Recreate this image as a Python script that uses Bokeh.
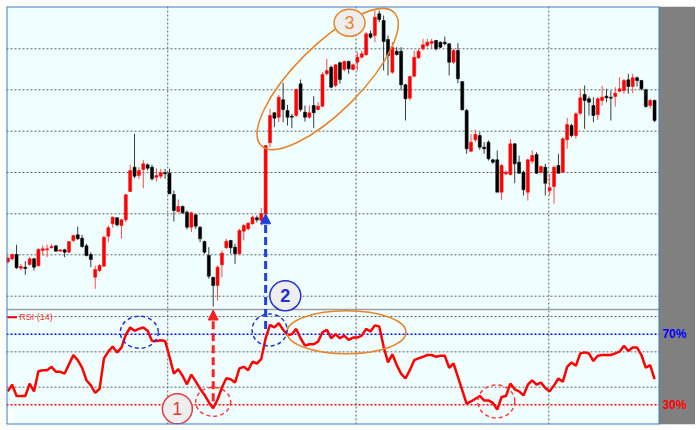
from bokeh.plotting import figure
from bokeh.models import Range1d, Span, Label, Arrow, NormalHead, BoxAnnotation
from bokeh.embed import file_html
from bokeh.resources import INLINE
from bokeh.core.properties import value

# ---------------- data ----------------
opens = [117.385, 117.417, 117.460, 117.323, 117.333, 117.360, 117.417, 117.347, 117.500, 117.507,
         117.527, 117.547, 117.493, 117.507, 117.483, 117.600, 117.657, 117.623, 117.547, 117.460,
         117.233, 117.300, 117.343, 117.643, 117.767, 117.827, 117.750, 117.807, 118.090, 118.333,
         118.250, 118.310, 118.357, 118.333, 118.233, 118.243, 118.277, 118.273, 118.060, 117.890,
         117.940, 117.883, 117.733, 117.857, 117.733, 117.590, 117.450, 117.233, 117.150, 117.357,
         117.527, 117.600, 117.533, 117.467, 117.693, 117.717, 117.767, 117.827, 117.800, 117.867,
         118.577, 118.877, 118.833, 119.007, 118.900, 118.843, 118.850, 119.167, 118.883, 118.833,
         118.950, 118.910, 118.943, 119.267, 119.333, 119.150, 119.377, 119.310, 119.390, 119.310,
         119.383, 119.433, 119.457, 119.667, 119.650, 119.867, 119.800, 119.610, 119.283, 119.493,
         119.493, 119.157, 119.023, 119.243, 119.427, 119.517, 119.550, 119.573, 119.600, 119.583,
         119.583, 119.567, 119.383, 119.500, 119.190, 118.900, 118.493, 118.607, 118.650, 118.533,
         118.583, 118.407, 118.407, 118.083, 118.267, 118.260, 118.567, 118.383, 118.283, 118.083,
         118.393, 118.460, 118.283, 118.333, 118.100, 118.140, 118.350, 118.283, 118.607, 118.750,
         118.650, 118.873, 119.060, 119.017, 118.950, 118.860, 119.000, 119.043, 119.033, 119.040,
         119.093, 119.100, 119.207, 119.140, 119.227, 119.200, 119.107, 118.950, 119.000]
closes = [117.425, 117.460, 117.327, 117.340, 117.320, 117.417, 117.333, 117.510, 117.517, 117.517,
          117.540, 117.493, 117.507, 117.483, 117.590, 117.650, 117.617, 117.540, 117.450, 117.410,
          117.310, 117.350, 117.633, 117.727, 117.833, 117.757, 117.807, 118.057, 118.300, 118.243,
          118.300, 118.367, 118.323, 118.217, 118.250, 118.277, 118.267, 118.067, 117.900, 117.940,
          117.877, 117.733, 117.877, 117.743, 117.617, 117.483, 117.243, 117.150, 117.333, 117.473,
          117.593, 117.527, 117.467, 117.700, 117.750, 117.773, 117.833, 117.807, 117.867, 118.550,
          118.850, 118.823, 119.033, 118.910, 118.833, 118.833, 119.110, 118.910, 118.833, 118.877,
          118.877, 118.943, 119.260, 119.300, 119.133, 119.357, 119.210, 119.390, 119.317, 119.357,
          119.433, 119.467, 119.667, 119.633, 119.833, 119.810, 119.590, 119.450, 119.533, 119.460,
          119.157, 119.017, 119.240, 119.433, 119.493, 119.557, 119.583, 119.590, 119.517, 119.533,
          119.567, 119.383, 119.500, 119.217, 118.907, 118.517, 118.583, 118.660, 118.533, 118.517,
          118.417, 118.383, 118.083, 118.350, 118.283, 118.567, 118.367, 118.273, 118.107, 118.407,
          118.450, 118.273, 118.340, 118.173, 118.127, 118.333, 118.273, 118.617, 118.760, 118.650,
          118.867, 119.027, 119.000, 118.983, 118.850, 119.017, 119.033, 119.027, 119.023, 119.073,
          119.117, 119.200, 119.140, 119.227, 119.200, 119.117, 118.940, 119.000, 118.800]
highs = [117.440, 117.470, 117.557, 117.367, 117.393, 117.433, 117.427, 117.523, 117.550, 117.560,
         117.567, 117.550, 117.510, 117.517, 117.590, 117.657, 117.740, 117.657, 117.567, 117.483,
         117.350, 117.367, 117.650, 117.750, 117.840, 117.833, 117.817, 118.067, 118.357, 118.667,
         118.333, 118.407, 118.370, 118.357, 118.323, 118.317, 118.317, 118.317, 118.100, 118.010,
         117.950, 117.900, 117.890, 117.867, 117.743, 117.600, 117.533, 117.233, 117.350, 117.500,
         117.617, 117.607, 117.567, 117.717, 117.767, 117.783, 117.850, 117.850, 117.927, 118.550,
         118.917, 118.883, 119.057, 119.177, 118.957, 118.867, 119.123, 119.210, 118.950, 118.950,
         119.043, 118.983, 119.283, 119.417, 119.350, 119.367, 119.390, 119.400, 119.400, 119.370,
         119.483, 119.500, 119.683, 119.700, 119.900, 119.900, 119.850, 119.650, 119.583, 119.533,
         119.533, 119.167, 119.250, 119.500, 119.517, 119.617, 119.617, 119.617, 119.607, 119.590,
         119.640, 119.573, 119.517, 119.573, 119.190, 118.917, 118.667, 118.707, 118.683, 118.583,
         118.600, 118.417, 118.500, 118.367, 118.300, 118.617, 118.573, 118.450, 118.300, 118.417,
         118.500, 118.483, 118.350, 118.367, 118.267, 118.350, 118.467, 118.633, 118.827, 118.767,
         118.883, 119.117, 119.150, 119.040, 119.033, 119.033, 119.150, 119.117, 119.100, 119.133,
         119.233, 119.217, 119.267, 119.267, 119.240, 119.207, 119.117, 119.017, 119.010]
lows = [117.370, 117.400, 117.317, 117.300, 117.257, 117.350, 117.300, 117.340, 117.450, 117.433,
        117.523, 117.490, 117.490, 117.433, 117.473, 117.583, 117.607, 117.527, 117.440, 117.333,
        117.117, 117.283, 117.340, 117.583, 117.727, 117.740, 117.617, 117.783, 118.083, 118.223,
        118.217, 118.123, 118.300, 118.200, 118.190, 118.217, 118.217, 118.067, 117.790, 117.877,
        117.867, 117.710, 117.683, 117.717, 117.583, 117.467, 117.217, 116.940, 117.000, 117.233,
        117.517, 117.467, 117.367, 117.460, 117.600, 117.700, 117.760, 117.780, 117.750, 117.860,
        118.533, 118.733, 118.783, 118.783, 118.750, 118.723, 118.833, 118.890, 118.790, 118.817,
        118.723, 118.900, 118.933, 119.250, 119.123, 119.133, 119.167, 119.290, 119.267, 119.300,
        119.300, 119.417, 119.450, 119.617, 119.583, 119.783, 119.300, 119.250, 119.267, 119.450,
        119.100, 118.800, 119.000, 119.233, 119.417, 119.500, 119.533, 119.520, 119.500, 119.525,
        119.550, 119.250, 119.367, 119.173, 118.900, 118.467, 118.483, 118.583, 118.507, 118.467,
        118.400, 118.367, 118.083, 118.007, 118.250, 118.250, 118.173, 118.267, 118.050, 118.000,
        118.367, 118.267, 118.267, 118.050, 118.050, 117.967, 118.267, 118.273, 118.517, 118.633,
        118.617, 118.850, 118.717, 118.850, 118.783, 118.807, 118.950, 118.983, 118.800, 118.940,
        119.083, 119.067, 119.067, 119.073, 119.140, 119.100, 118.927, 118.917, 118.783]
rsi = [37.6, 41.4, 35.0, 35.0, 35.0, 42.0, 37.6, 49.0, 49.6, 49.6,
       51.5, 48.7, 48.7, 47.7, 52.9, 58.2, 55.3, 51.0, 43.9, 41.0,
       36.7, 39.1, 56.3, 60.1, 63.0, 59.7, 62.4, 69.6, 73.8, 71.9,
       73.0, 73.8, 71.9, 66.2, 66.2, 66.6, 66.2, 57.2, 47.7, 50.2,
       46.4, 41.6, 47.1, 43.3, 39.1, 35.7, 31.5, 28.1, 33.0, 39.8,
       45.0, 44.5, 42.6, 50.6, 51.5, 49.6, 54.4, 53.4, 55.9, 67.7,
       75.3, 73.8, 76.3, 72.5, 69.6, 70.0, 73.0, 67.7, 63.5, 64.3,
       64.3, 65.8, 71.1, 72.5, 67.7, 70.0, 67.7, 69.2, 66.8, 68.1,
       68.1, 69.2, 73.0, 71.5, 75.0, 74.4, 63.0, 54.0, 58.6, 52.5,
       47.7, 44.9, 49.6, 55.3, 56.3, 57.2, 58.2, 58.2, 57.2, 57.8,
       57.8, 51.0, 53.4, 45.8, 38.2, 30.6, 31.9, 33.4, 35.0, 32.5,
       32.5, 31.1, 27.3, 34.4, 35.0, 42.0, 38.8, 37.6, 35.3, 41.4,
       43.9, 41.4, 42.6, 39.5, 37.6, 41.0, 44.9, 43.0, 51.5, 54.0,
       52.1, 59.1, 59.7, 59.1, 54.8, 57.8, 58.2, 58.2, 58.2, 59.1,
       60.1, 63.5, 60.5, 62.4, 62.4, 58.2, 51.0, 52.5, 44.5]

price_grid = [117.043, 117.457, 117.867, 118.280, 118.693, 119.107, 119.517]
time_grid = [36.6, 79.7, 123.8]
rsi_grid = [80, 60, 40]
rsi_levels = [70, 30]
rsi_level_labels = ["70%", "30%"]
rsi_title = "RSI (14)"
circle_labels = ["1", "2", "3"]

idx = list(range(len(opens)))

# ---------------- figure ----------------
x_first, chart_right = -0.3, 149.13
main_range = Range1d(115.76, 119.94)
rsi_range = Range1d(18.84, 255.66)
price_panel_bottom = 116.91

p = figure(width=695, height=426, x_range=Range1d(x_first, 157.37), y_range=main_range,
           x_axis_location=None, y_axis_location=None, title=None,
           toolbar_location=None, output_backend="svg",
           min_border_left=6, min_border_top=6, min_border_bottom=2, min_border_right=0,
           background_fill_color="#F0FFFF", border_fill_color="#FFFFFF",
           outline_line_color=None)
p.extra_y_ranges = {"rsi": rsi_range}
p.grid.visible = False


def rsi_to_main(r):
    f = (r - rsi_range.start) / (rsi_range.end - rsi_range.start)
    return main_range.start + f * (main_range.end - main_range.start)


grid_style = dict(line_color="#5E5E5E", line_dash="2 2", line_width=1, level="underlay")
for g in price_grid:
    p.add_layout(Span(location=g, dimension="width", **grid_style))
for t in time_grid:
    p.add_layout(Span(location=t, dimension="height", **grid_style))
for g in rsi_grid:
    p.add_layout(Span(location=g, dimension="width", y_range_name="rsi", **grid_style))
for lv, col in zip(rsi_levels, ["#0000FF", "#FF0000"]):
    p.add_layout(Span(location=lv, dimension="width", y_range_name="rsi", line_color=col,
                      line_dash="2 2", line_width=1.5, level="underlay"))
p.add_layout(Span(location=price_panel_bottom, dimension="width", line_color="#9C9C9C",
                  line_width=1.5, level="underlay"))

# ---------------- candles ----------------
up = [i for i in idx if closes[i] >= opens[i]]
dn = [i for i in idx if closes[i] < opens[i]]
for sel, body, wick in [(up, "#FF0000", "#FF4848"), (dn, "#000000", "#3A3A3A")]:
    xs = [idx[i] for i in sel]
    p.segment(x0=xs, x1=xs, y0=[lows[i] for i in sel], y1=[highs[i] for i in sel],
              line_color=wick, line_width=1)
    p.vbar(x=xs, width=0.7, top=[max(opens[i], closes[i]) for i in sel],
           bottom=[min(opens[i], closes[i]) for i in sel],
           fill_color=body, line_color=body, line_width=0.5)

# ---------------- RSI ----------------
p.line(idx, rsi, y_range_name="rsi", line_color="#FF0000", line_width=2.5)
p.segment(x0=[-0.1], x1=[2.1], y0=[79.6], y1=[79.6], y_range_name="rsi",
          line_color="#FF0000", line_width=2)
p.add_layout(Label(x=2.6, y=79.6, y_range_name="rsi", text=rsi_title, text_baseline="middle",
                   text_font="Liberation Sans", text_font_size="9px", text_color="#FF3030"))

# ---------------- annotations ----------------
orange = "#E8842C"
p.ellipse(x=[73.2], y=[119.215], width=[188], height=[66], angle=[0.785],
          width_units="screen", height_units="screen",
          fill_color=None, line_color=orange, line_width=1.6)
p.ellipse(x=[77.5], y=[71.1], width=[119], height=[43], y_range_name="rsi",
          width_units="screen", height_units="screen",
          fill_color=None, line_color=orange, line_width=1.6)
blue_d = "#2433D6"
red_d = "#FF3A3A"
p.ellipse(x=[30.1, 59.9], y=[71.1, 72.4], width=[38, 35], height=[32, 32], y_range_name="rsi",
          width_units="screen", height_units="screen",
          fill_color=None, line_color=blue_d, line_width=1.5, line_dash="4 3")
p.ellipse(x=[47.0, 111.8], y=[31.7, 31.9], width=[35, 37], height=[29, 33], y_range_name="rsi",
          width_units="screen", height_units="screen",
          fill_color=None, line_color=red_d, line_width=1.5, line_dash="4 3")

# arrows
p.add_layout(Arrow(end=NormalHead(size=10, fill_color="#FF2020", line_color="#FF2020"),
                   x_start=47, y_start=rsi_to_main(32.0), x_end=47, y_end=lows[47] - 0.035,
                   line_color="#FF2020", line_width=3, line_dash="8 4"))
p.add_layout(Arrow(end=NormalHead(size=10, fill_color="#1F3FE0", line_color="#1F3FE0"),
                   x_start=59, y_start=rsi_to_main(73.0), x_end=59, y_end=opens[59],
                   line_color="#1F3FE0", line_width=3, line_dash="8 4"))

# numbered circles
num_style = dict(text_align="center", text_baseline="middle",
                 text_font=value("Liberation Sans"), text_font_size="18px")
p.ellipse(x=[38.8], y=[27.7], width=[30], height=[30], y_range_name="rsi",
          width_units="screen", height_units="screen",
          fill_color="#EEEEEE", line_color="#E8383D", line_width=1.5)
p.text(x=[38.8], y=[27.7], text=[circle_labels[0]], y_range_name="rsi",
       text_color="#E8383D", **num_style)
p.ellipse(x=[63.5], y=[117.047], width=[31], height=[30],
          width_units="screen", height_units="screen",
          fill_color="#EEEEEE", line_color="#2030D0", line_width=1.5)
p.text(x=[63.5], y=[117.047], text=[circle_labels[1]], text_color="#2030D0",
       text_font_style="bold", **num_style)
p.ellipse(x=[78.2], y=[119.777], width=[31], height=[27],
          width_units="screen", height_units="screen",
          fill_color="#EEEEEE", line_color=orange, line_width=1.5)
p.text(x=[78.2], y=[119.777], text=[circle_labels[2]], text_color=orange, **num_style)

# ---------------- frame border, price-scale strip, level labels ----------------
p.add_layout(BoxAnnotation(left=x_first, right=1.3, bottom=rsi_range.start, top=26.2,
                           y_range_name="rsi", fill_color="#FFFFFF", fill_alpha=1,
                           line_color=None))
p.add_layout(BoxAnnotation(left=x_first, right=chart_right, fill_color=None, fill_alpha=0,
                           line_color="#3F7CC4", line_width=2, line_alpha=1))
p.add_layout(BoxAnnotation(left=chart_right, fill_color="#808080", fill_alpha=1,
                           line_color=None))
for lv, txt, col in zip(rsi_levels, rsi_level_labels, ["#0000FF", "#FF0000"]):
    p.add_layout(Label(x=149.8, y=lv, y_range_name="rsi", text=txt, text_baseline="middle",
                       text_align="left", text_font="Liberation Sans",
                       text_font_size="12px", text_font_style="bold", text_color=col))

open("out.html", "w").write(file_html(p, INLINE))
